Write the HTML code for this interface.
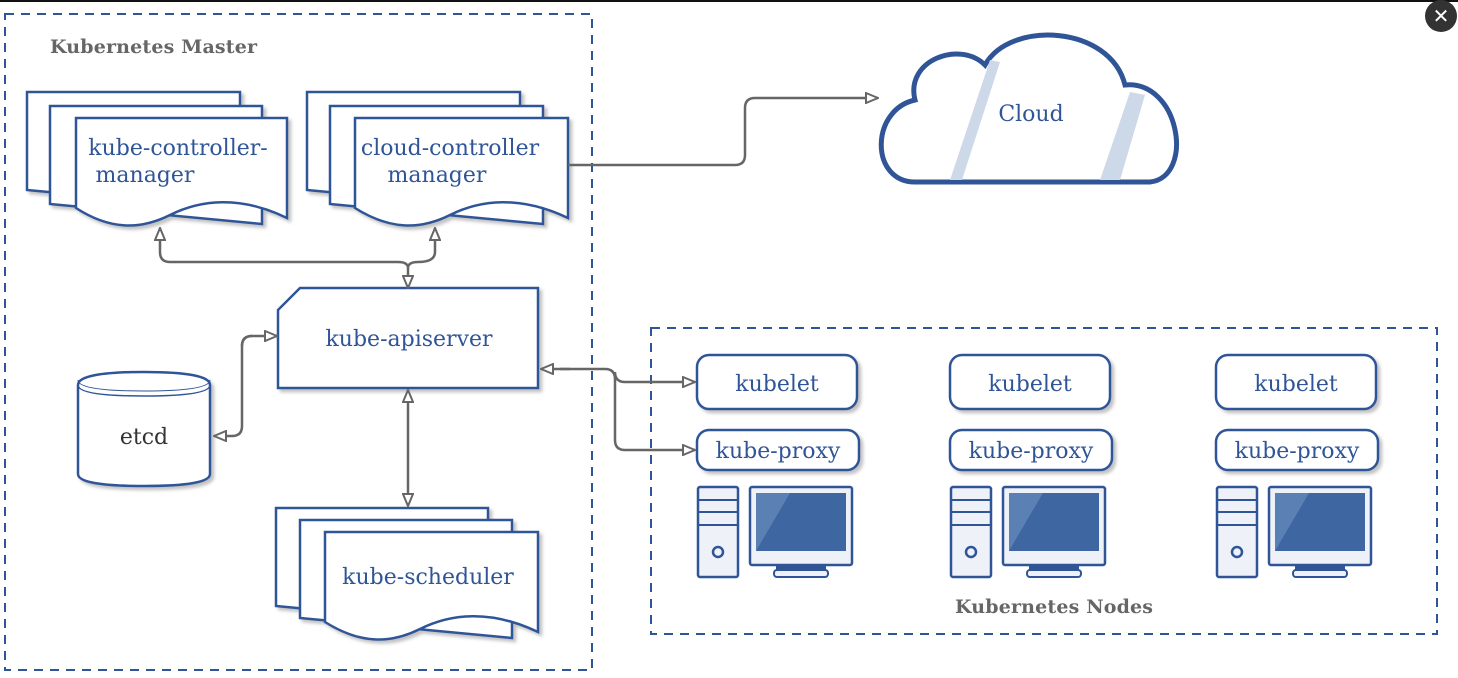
<!DOCTYPE html>
<html><head><style>
html,body{margin:0;padding:0;background:#fff;width:1458px;height:678px;overflow:hidden}
text{font-family:"DejaVu Serif","Liberation Serif",serif}
</style></head><body>
<svg width="1458" height="678" viewBox="0 0 1458 678" xmlns="http://www.w3.org/2000/svg">
<defs>
<marker id="a" markerWidth="14" markerHeight="12" refX="13" refY="6" orient="auto" markerUnits="userSpaceOnUse">
<path d="M1,1 L13,6 L1,11 Z" fill="#fff" stroke="#666" stroke-width="2"/></marker>
<filter id="s" x="-10%" y="-10%" width="130%" height="130%"><feDropShadow dx="3" dy="3" stdDeviation="1.5" flood-color="#999" flood-opacity="0.6"/></filter>
</defs>
<rect x="0" y="0" width="1458" height="2" fill="#111"/>
<circle cx="1441" cy="16" r="16" fill="#333"/>
<text x="1441" y="23" font-size="20" fill="#fff" text-anchor="middle" font-family="Liberation Sans">✕</text>

<g fill="none" stroke="#2f5597" stroke-width="2" stroke-dasharray="9,7">
<rect x="5" y="14" width="587" height="656"/>
<rect x="651" y="328" width="786" height="306"/>
</g>
<text x="50" y="53" font-size="19" font-weight="bold" fill="#666" textLength="207">Kubernetes Master</text>
<text x="955" y="613" font-size="19" font-weight="bold" fill="#666" textLength="198">Kubernetes Nodes</text>

<g fill="#fff" stroke="#2f5597" stroke-width="2.5" filter="url(#s)">
<path d="M27,92 H240 V210 L27,190 Z"/>
<path d="M50,106 H262 V224 L50,204 Z"/>
<path d="M76,118 H287 V218 C240,195 200,200 170,215 C140,230 110,230 76,208 Z"/>
<path d="M307,92 H520 V210 L307,190 Z"/>
<path d="M330,106 H543 V224 L330,204 Z"/>
<path d="M355,118 H568 V218 C520,195 480,200 450,215 C420,230 390,230 355,208 Z"/>
<path d="M276,508 H488 V626 L276,606 Z"/>
<path d="M300,520 H512 V638 L300,618 Z"/>
<path d="M325,532 H538 V632 C490,609 450,614 420,629 C390,644 360,644 325,622 Z"/>
<path d="M300,288 H538 V388 H278 V310 Z"/>
<path d="M78,385 Q78,372 144,372 Q210,372 210,385 V474 Q210,486 144,486 Q78,486 78,474 Z"/>
</g>
<g fill="none" stroke="#2f5597" stroke-width="1.5">
<path d="M78,385 Q78,396 144,396 Q210,396 210,385"/>
<path d="M78,380 Q78,391 144,391 Q210,391 210,380" stroke-width="1"/>
</g>
<g fill="#2f5597" font-size="22">
<text x="178" y="155" text-anchor="middle">kube-controller-</text>
<text x="145" y="182" text-anchor="middle">manager</text>
<text x="450" y="155" text-anchor="middle">cloud-controller</text>
<text x="437" y="182" text-anchor="middle">manager</text>
<text x="409" y="346" text-anchor="middle">kube-apiserver</text>
<text x="428" y="584" text-anchor="middle">kube-scheduler</text>
</g>
<text x="144" y="444" text-anchor="middle" font-size="22" fill="#333">etcd</text>

<path d="M915,182 C870,182 870,110 915,100 C905,60 960,40 985,65 C1010,20 1110,25 1125,85 C1180,80 1195,177 1150,182 Z" fill="#fff" stroke="#2f5597" stroke-width="5"/>
<path d="M950,180 L990,60 L1000,62 L962,180Z M1100,180 L1130,92 L1145,95 L1120,180Z" fill="#cdd9e8"/>
<text x="1031" y="121" text-anchor="middle" font-size="22" fill="#2f5597">Cloud</text>

<g fill="none" stroke="#666" stroke-width="2.5">
<path d="M568,165 H735 Q745,165 745,155 V108 Q745,98 755,98 H878" marker-end="url(#a)"/>
<path d="M408,268 V288" marker-end="url(#a)"/>
<path d="M398,262 Q408,262 408,268 Q408,262 418,262"/>
<path d="M398,262 H170 Q160,262 160,252 V228" marker-end="url(#a)"/>
<path d="M418,262 Q435,262 435,252 V228" marker-end="url(#a)"/>
<path d="M252,336 Q242,336 242,346 V426 Q242,436 232,436 H214" marker-end="url(#a)"/>
<path d="M242,346 Q242,336 252,336 H277" marker-end="url(#a)"/>
<path d="M408,408 V390" marker-end="url(#a)"/>
<path d="M408,408 V506" marker-end="url(#a)"/>
<path d="M570,369 H541" marker-end="url(#a)"/>
<path d="M560,369 H605 Q615,369 615,379 V440 Q615,450 625,450 H695" marker-end="url(#a)"/>
<path d="M615,372 Q615,382 625,382 H695" marker-end="url(#a)"/>
</g>

<g id="n">
<rect x="697" y="355" width="160" height="54" rx="12" fill="#fff" stroke="#2f5597" stroke-width="2.5" filter="url(#s)"/>
<text x="777" y="391" text-anchor="middle" font-size="22" fill="#2f5597">kubelet</text>
<rect x="697" y="430" width="162" height="40" rx="12" fill="#fff" stroke="#2f5597" stroke-width="2.5" filter="url(#s)"/>
<text x="778" y="458" text-anchor="middle" font-size="22" fill="#2f5597">kube-proxy</text>
<rect x="698" y="487" width="40" height="90" rx="2" fill="#eef2f8" stroke="#2f5597" stroke-width="2.5"/>
<path d="M698,500 H738 M698,512 H738 M698,525 H738" stroke="#2f5597" stroke-width="2"/>
<circle cx="718" cy="552" r="5" fill="none" stroke="#2f5597" stroke-width="2.5"/>
<rect x="750" y="487" width="102" height="78" rx="2" fill="#eef2f8" stroke="#2f5597" stroke-width="2.5"/>
<rect x="756" y="493" width="90" height="58" fill="#3e66a0"/>
<path d="M756,551 L790,493 H756 Z" fill="#5a80b4"/>
<rect x="776" y="565" width="50" height="5" fill="#2f5597"/>
<rect x="774" y="570" width="54" height="7" rx="3" fill="#eef2f8" stroke="#2f5597" stroke-width="2"/>
</g>
<use href="#n" x="253"/>
<use href="#n" x="519"/>
</svg>
</body></html>
